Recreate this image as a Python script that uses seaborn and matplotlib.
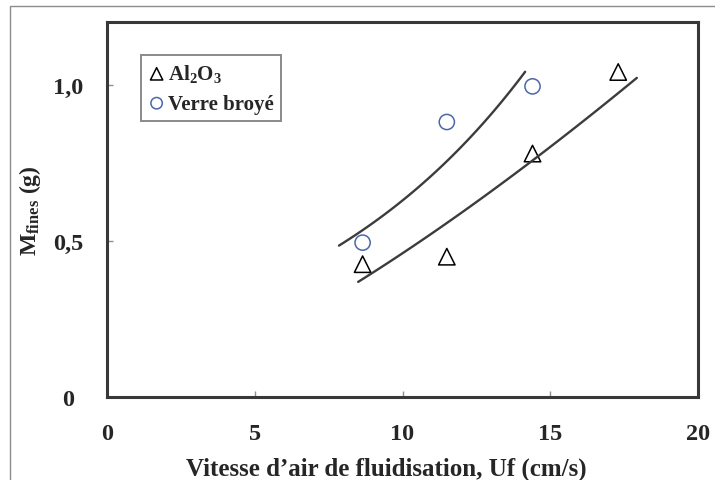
import numpy as np
import pandas as pd
import seaborn as sns
import matplotlib.pyplot as plt
from matplotlib.patches import Rectangle

sns.set_style("ticks")
plt.rcParams['font.family'] = ['Liberation Serif', 'DejaVu Serif']
plt.rcParams['font.weight'] = 'bold'
plt.rcParams['mathtext.fontset'] = 'custom'
plt.rcParams['mathtext.rm'] = 'Liberation Serif:bold'
plt.rcParams['mathtext.bf'] = 'Liberation Serif:bold'
plt.rcParams['mathtext.it'] = 'Liberation Serif:bold'

# data
uf_al2o3 = [8.65, 11.5, 14.4, 17.3]
m_al2o3 = [0.425, 0.449, 0.779, 1.04]
uf_verre = [8.65, 11.5, 14.4]
m_verre = [0.494, 0.88, 0.994]

# extent of the trend lines
range_al2o3 = [8.5, 17.93]
range_verre = [7.85, 14.15]

x_ticks = [0, 5, 10, 15, 20]
y_ticks = [0, 0.5, 1.0]
y_ticklabels = ["0", "0,5", "1,0"]

fig = plt.figure(figsize=(7.15, 4.81), dpi=100)
fig.patches.append(Rectangle((10 / 715, -0.1), 1.2, 1 - 7 / 481 + 0.1,
                             transform=fig.transFigure, fill=False,
                             edgecolor="#8c8c8c", linewidth=1))
ax = fig.add_axes([107 / 715, 83 / 481, 591 / 715, 375 / 481])

# trend lines (power fit for Al2O3, exponential fit for glass)
b1, a1 = np.polyfit(np.log(uf_al2o3), np.log(m_al2o3), 1)
xs1 = np.linspace(range_al2o3[0], range_al2o3[1], 100)
fit1 = pd.DataFrame({"x": xs1, "y": np.exp(a1) * xs1 ** b1})
b2, a2 = np.polyfit(uf_verre, np.log(m_verre), 1)
xs2 = np.linspace(range_verre[0], range_verre[1], 100)
fit2 = pd.DataFrame({"x": xs2, "y": np.exp(a2 + b2 * xs2)})
sns.lineplot(data=fit1, x="x", y="y", color="#3c3c3c", linewidth=1.7, ax=ax)
sns.lineplot(data=fit2, x="x", y="y", color="#3c3c3c", linewidth=1.7, ax=ax)

sns.scatterplot(x=uf_al2o3, y=m_al2o3, marker="^", s=140, facecolor="none",
                edgecolor="black", linewidth=1.1, label=r"$\mathbf{Al_2O_3}$", ax=ax)
sns.scatterplot(x=uf_verre, y=m_verre, marker="o", s=120, facecolor="none",
                edgecolor="#4a68a8", linewidth=1.1, label="Verre broyé", ax=ax)

ax.set_xlim(0, 20)
ax.set_ylim(0, 1.2)
ax.set_xticks(x_ticks)
ax.set_yticks(y_ticks)
ax.set_yticklabels(y_ticklabels)
ax.tick_params(direction="in", length=4, width=1, color="#909090",
               labelsize=17.5)
ax.tick_params(axis="x", pad=19)
ax.tick_params(axis="y", pad=28)
for lab in ax.get_yticklabels():
    lab.set_horizontalalignment("center")
for s in ax.spines.values():
    s.set_visible(True)
    s.set_linewidth(2.2)
    s.set_color("#383838")

ax.set_xlabel("Vitesse d’air de fluidisation, Uf (cm/s)", fontsize=18,
              fontweight="bold", labelpad=9)
ax.xaxis.label.set_x(0.472)
ax.set_ylabel(r"$\mathbf{M_{fines}}$ (g)", fontsize=17, fontweight="bold",
              labelpad=7)

leg = ax.legend(loc="upper left", bbox_to_anchor=(0.0575, 0.912),
                borderaxespad=0, fancybox=False, frameon=True, fontsize=15,
                markerscale=0.75, handletextpad=0.15, handlelength=0.8,
                borderpad=0.35, labelspacing=0.45)
leg.get_frame().set_edgecolor("#8a8a8a")
leg.get_frame().set_linewidth(1.4)
leg.get_frame().set_alpha(1)

fig.savefig("out.png", dpi=100)
